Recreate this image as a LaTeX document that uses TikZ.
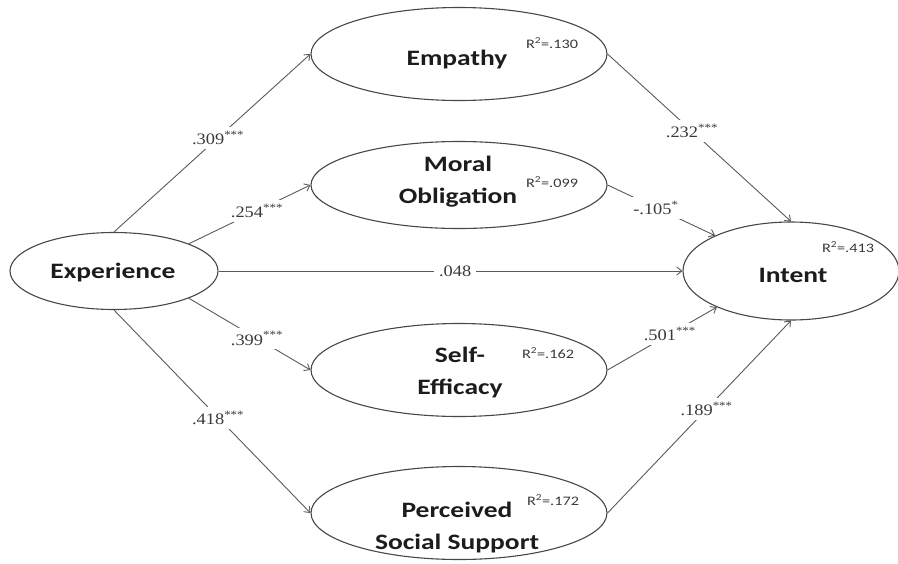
\documentclass[tikz,border=0pt]{standalone}
\usepackage{fontspec}
\setmainfont{Carlito}
\newfontfamily\namefont[FakeStretch=1.25]{Carlito}
\newfontfamily\coeffont[FakeStretch=1.15]{Liberation Serif}
\usetikzlibrary{shapes.geometric,arrows.meta}
\definecolor{rimgray}{HTML}{474747}
\definecolor{pathgray}{HTML}{5A5A5A}
\definecolor{textgray}{HTML}{3A3A3A}
\definecolor{namegray}{HTML}{1C1C1C}
\newcommand{\sig}[1]{\textsuperscript{#1}}
\newcommand{\rsq}[1]{R\textsuperscript{2}=#1}
\begin{document}
\begin{tikzpicture}[x=1pt,y=-1pt,
  construct/.style={ellipse, draw=rimgray, line width=1.1pt, inner sep=0pt,
    minimum width=296pt, minimum height=93pt},
  constructname/.style={font=\namefont\bfseries\fontsize{22}{32}\selectfont,
    text=namegray, align=center, inner sep=0pt},
  rsquare/.style={font=\namefont\fontsize{13}{15}\selectfont, text=textgray, inner sep=0pt},
  path/.style={draw=pathgray, line width=0.9pt,
    -{Straight Barb[length=5pt,width=8pt]}},
  coef/.style={fill=white, inner xsep=5pt, inner ysep=4pt, text=textgray,
    font=\coeffont\fontsize{16}{18}\selectfont},
]
\useasboundingbox (0,0) rectangle (898,563);

% latent constructs
\node[construct, minimum width=208pt, minimum height=77pt] (exp) at (114,271) {};
\node[construct] (emp) at (459,54) {};
\node[construct, minimum height=87pt] (mor) at (459,185) {};
\node[construct] (sef) at (459,370) {};
\node[construct] (pss) at (459,513) {};
\node[construct, minimum width=216pt, minimum height=98pt] (int) at (791,271) {};

% construct names (base anchor sits on the last line)
\node[constructname, anchor=base] (expt) at (113,278) {Experience};
\node[constructname, anchor=base] (empt) at (457,65) {Empathy};
\node[constructname, anchor=base] (mort) at (458,203) {Moral\\Obligation};
\node[constructname, anchor=base] (seft) at (460,394) {Self-\\Efficacy};
\node[constructname, anchor=base] (psst) at (457,549) {Perceived\\Social Support};
\node[constructname, anchor=base] (intt) at (793,282) {Intent};

% explained variance
\node[rsquare] (empr) at (552,43) {\rsq{.130}};
\node[rsquare] (morr) at (552,182) {\rsq{.099}};
\node[rsquare] (sefr) at (548,353) {\rsq{.162}};
\node[rsquare] (pssr) at (553,500) {\rsq{.172}};
\node[rsquare] (intr) at (848,247) {\rsq{.413}};

% paths from Experience
\draw[path] (exp.north) -- node[coef, pos=0.53] (c1) {.309\sig{***}} (emp.west);
\draw[path] (exp.20) -- node[coef, pos=0.56] (c2) {.254\sig{***}} (mor.west);
\draw[path] (exp.east) -- node[coef, pos=0.51] (c3) {.048} (int.west);
\draw[path] (exp.-20) -- node[coef, pos=0.56] (c4) {.399\sig{***}} (sef.west);
\draw[path] (exp.south) -- node[coef, pos=0.53] (c5) {.418\sig{***}} (pss.west);

% paths into Intent
\draw[path] (emp.east) -- node[coef, pos=0.46] (c6) {.232\sig{***}} (int.north);
\draw[path] (mor.east) -- node[coef, pos=0.45] (c7) {-.105\sig{*}} (int.155);
\draw[path] (sef.east) -- node[coef, pos=0.57] (c8) {.501\sig{***}} (int.206);
\draw[path] (pss.east) -- node[coef, pos=0.54] (c9) {.189\sig{***}} (int.south);
\end{tikzpicture}
\end{document}
